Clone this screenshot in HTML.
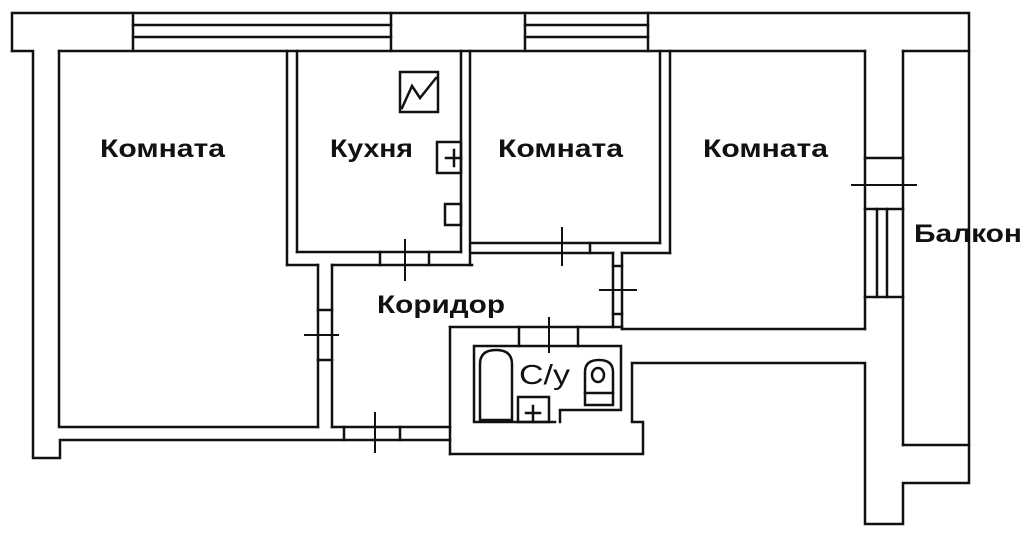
<!DOCTYPE html>
<html><head><meta charset="utf-8"><style>
html,body{margin:0;padding:0;background:#fff;}
svg{display:block}
text{font-family:"Liberation Sans","DejaVu Sans",sans-serif;fill:#111;}
</style></head><body>
<svg width="1024" height="537" viewBox="0 0 1024 537" xmlns="http://www.w3.org/2000/svg">
<g stroke="#111" stroke-width="2.5" fill="none" stroke-linecap="square">
<polyline points="12,51 12,13 969,13 969,483 903,483 903,524 865,524 865,363 632,363 632,422 643,422 643,454 450,454"/>
<polyline points="12,51 33,51 33,458 60,458 60,440 450,440"/>
<line x1="450" y1="327" x2="450" y2="454"/>
<line x1="450" y1="327" x2="622" y2="327"/>
<line x1="622" y1="329" x2="865" y2="329"/>
<line x1="133" y1="13" x2="133" y2="51"/><line x1="391" y1="13" x2="391" y2="51"/>
<line x1="133" y1="25" x2="391" y2="25"/><line x1="133" y1="37" x2="391" y2="37"/>
<line x1="525" y1="13" x2="525" y2="51"/><line x1="648" y1="13" x2="648" y2="51"/>
<line x1="525" y1="25" x2="648" y2="25"/><line x1="525" y1="37" x2="648" y2="37"/>
<line x1="59" y1="51" x2="865" y2="51"/>
<line x1="903" y1="51" x2="969" y2="51"/>
<polyline points="59,51 59,427 318,427"/>
<line x1="287" y1="51" x2="287" y2="265"/>
<line x1="297" y1="51" x2="297" y2="252"/>
<line x1="297" y1="252" x2="461" y2="252"/>
<line x1="287" y1="265" x2="318" y2="265"/>
<line x1="332" y1="265" x2="472" y2="265"/>
<line x1="461" y1="51" x2="461" y2="252"/>
<line x1="470" y1="51" x2="470" y2="265"/>
<line x1="472" y1="243" x2="660" y2="243"/>
<line x1="660" y1="51" x2="660" y2="243"/>
<line x1="670" y1="51" x2="670" y2="253"/>
<line x1="472" y1="253" x2="613" y2="253"/>
<line x1="622" y1="253" x2="670" y2="253"/>
<line x1="613" y1="253" x2="613" y2="327"/>
<line x1="622" y1="253" x2="622" y2="329"/>
<line x1="318" y1="265" x2="318" y2="427"/>
<line x1="332" y1="265" x2="332" y2="427"/>
<line x1="332" y1="427" x2="450" y2="427"/>
<line x1="865" y1="51" x2="865" y2="329"/>
<line x1="903" y1="51" x2="903" y2="445"/>
<line x1="903" y1="445" x2="969" y2="445"/>
<line x1="865" y1="158" x2="903" y2="158"/>
<line x1="865" y1="209" x2="903" y2="209"/>
<line x1="865" y1="297" x2="903" y2="297"/>
<line x1="877" y1="209" x2="877" y2="297"/>
<line x1="887" y1="209" x2="887" y2="297"/>
<line x1="852" y1="185" x2="916" y2="185" stroke-width="2"/>
<line x1="405" y1="240" x2="405" y2="280" stroke-width="2"/>
<line x1="380" y1="252" x2="380" y2="265"/><line x1="429" y1="252" x2="429" y2="265"/>
<line x1="562" y1="228" x2="562" y2="265" stroke-width="2"/>
<line x1="590" y1="243" x2="590" y2="253"/>
<line x1="600" y1="290" x2="636" y2="290" stroke-width="2"/>
<line x1="613" y1="266" x2="622" y2="266"/><line x1="613" y1="314" x2="622" y2="314"/>
<line x1="305" y1="335" x2="338" y2="335" stroke-width="2"/>
<line x1="318" y1="310" x2="332" y2="310"/><line x1="318" y1="360" x2="332" y2="360"/>
<line x1="375" y1="413" x2="375" y2="452" stroke-width="2"/>
<line x1="344" y1="427" x2="344" y2="440"/><line x1="400" y1="427" x2="400" y2="440"/>
<line x1="519" y1="327" x2="519" y2="346"/><line x1="578" y1="327" x2="578" y2="346"/>
<line x1="549" y1="318" x2="549" y2="352" stroke-width="2"/>
<polyline points="555,422 474,422 474,346 621,346 621,410 560,410 560,422"/>
<path d="M480,420 L480,364 Q480,350 496,350 Q512,350 512,364 L512,420 Z"/>
<rect x="518" y="397" width="31" height="25"/>
<line x1="533" y1="406" x2="533" y2="420"/><line x1="526" y1="413" x2="540" y2="413"/>
<path d="M585,405 L585,372 Q585,360 599,360 Q613,360 613,372 L613,405 Z"/>
<line x1="585" y1="393" x2="613" y2="393"/>
<ellipse cx="598" cy="375" rx="6" ry="7"/>
<rect x="400" y="72" width="38" height="40"/>
<polyline points="402,108 412,86 420,98 436,78"/>
<rect x="437" y="142" width="24" height="31"/>
<line x1="454" y1="150" x2="454" y2="166"/><line x1="446" y1="158" x2="461" y2="158"/>
<rect x="445" y="204" width="16" height="21"/>
</g>
<g font-weight="bold" font-size="25">
<text x="100" y="157" textLength="125" lengthAdjust="spacingAndGlyphs">Комната</text>
<text x="330" y="157" textLength="83" lengthAdjust="spacingAndGlyphs">Кухня</text>
<text x="498" y="157" textLength="125" lengthAdjust="spacingAndGlyphs">Комната</text>
<text x="703" y="157" textLength="125" lengthAdjust="spacingAndGlyphs">Комната</text>
<text x="914" y="242" textLength="108" lengthAdjust="spacingAndGlyphs">Балкон</text>
<text x="377" y="313" textLength="128" lengthAdjust="spacingAndGlyphs">Коридор</text>
</g>
<text x="519" y="384" font-size="28" textLength="51" lengthAdjust="spacingAndGlyphs">С/у</text>
</svg>
</body></html>
